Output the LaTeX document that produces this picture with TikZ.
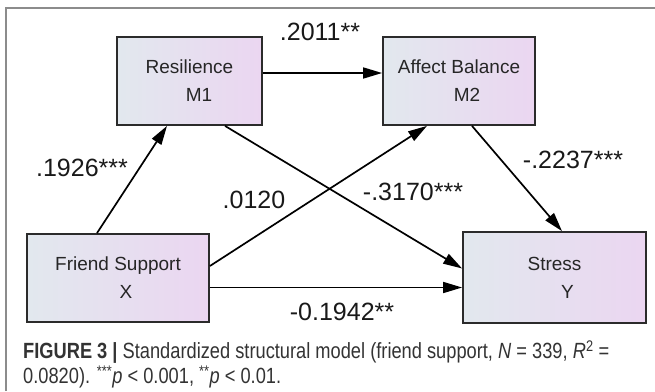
\documentclass[tikz,border=0pt]{standalone}
\usepackage{fontspec}
\setmainfont{Liberation Sans}
\newfontfamily\capfont{Liberation Sans}[FakeStretch=0.83]
\usepackage{tikz}
\usetikzlibrary{arrows.meta}
\definecolor{BoxLeft}{HTML}{E2E8EE}
\definecolor{BoxRight}{HTML}{EBD6F1}
\definecolor{BoxLine}{HTML}{2B2B2B}
\definecolor{FrameGray}{HTML}{8C8C8C}
\definecolor{CapText}{HTML}{333333}

\begin{document}
\begin{tikzpicture}[
 x=1pt,y=-1pt,
 box/.style={draw=BoxLine,line width=1.8pt,left color=BoxLeft,right color=BoxRight,align=center,inner sep=0pt,font=\fontsize{19}{28}\selectfont,text=black!85},
 arrow/.style={-{Triangle[length=19pt,width=11pt]},line width=1.7pt,color=black},
 coef/.style={font=\fontsize{25}{28}\selectfont,text=black!90,inner sep=0pt},
 caption/.style={anchor=west,inner sep=0pt,font=\capfont\fontsize{22}{25}\selectfont,text=CapText}
]
\useasboundingbox (0,0) rectangle (655,391);
% frame of the figure panel
\draw[FrameGray,line width=1.5pt] (6,391) -- (6,8) -- (655,8);
% variables
\node[box,minimum width=145pt,minimum height=88pt] (m1) at (189.5,81) {Resilience\\\hspace*{19pt}M1};
\node[box,minimum width=152pt,minimum height=88pt] (m2) at (459,81) {Affect Balance\\\hspace*{16pt}M2};
\node[box,minimum width=182pt,minimum height=88pt] (x) at (118,278) {Friend Support\\\hspace*{16pt}X};
\node[box,minimum width=183pt,minimum height=91pt] (y) at (554.5,277.5) {Stress\\\hspace*{26pt}Y};
% paths
\draw[arrow] ([xshift=-21pt]x.north) -- ([xshift=-22.5pt]m1.south);
\draw[arrow] ([yshift=8pt]m1.east) -- ([yshift=8pt]m1.east -| m2.west);
\draw[arrow] ([yshift=12pt]x.east) -- ([xshift=-32pt]m2.south);
\draw[arrow] ([xshift=35.5pt]m1.south) -- ([yshift=9pt]y.west);
\draw[arrow] ([xshift=13pt]m2.south) -- ([xshift=7.5pt]y.north);
\draw[arrow] ([yshift=-9.5pt]x.east) -- ([yshift=-9.5pt]x.east -| y.west);
% coefficients
\node[coef] (a1) at (320,32) {.2011**};
\node[coef] (a2) at (82,168) {.1926***};
\node[coef] (a3) at (254,200) {.0120};
\node[coef] (a4) at (413,192) {-.3170***};
\node[coef] (a5) at (573,160) {-.2237***};
\node[coef] (a6) at (342,312) {-0.1942**};
% caption
\node[caption] (cap1) at (23,352) {\textbf{FIGURE 3 |} Standardized structural model (friend support, \textit{N} = 339, \textit{R}\textsuperscript{2} =};
\node[caption] (cap2) at (23,377) {0.0820). \textsuperscript{***}\textit{p} < 0.001, \textsuperscript{**}\textit{p} < 0.01.};
\end{tikzpicture}
\end{document}
